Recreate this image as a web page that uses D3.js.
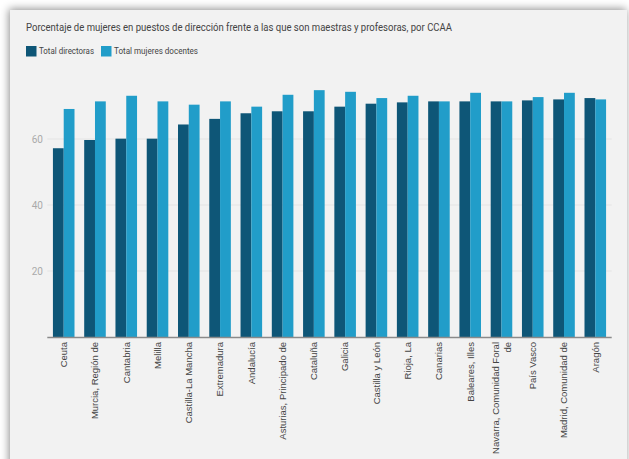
<!DOCTYPE html>
<html>
<head>
<meta charset="utf-8">
<script src="https://cdn.jsdelivr.net/npm/d3@7"></script>
<style>
  body { margin: 0; background: #ffffff; }
  svg { display: block; }
</style>
</head>
<body>
<script>
// data
const regiones = ['Ceuta', 'Murcia, Región de', 'Cantabria', 'Melilla', 'Castilla-La Mancha',
  'Extremadura', 'Andalucía', 'Asturias, Principado de', 'Cataluña', 'Galicia',
  'Castilla y León', 'Rioja, La', 'Canarias', 'Baleares, Illes', 'Navarra, Comunidad Foral de',
  'País Vasco', 'Madrid, Comunidad de', 'Aragón']
const directoras = [57.2, 59.7, 60.1, 60.1, 64.4, 66.1, 67.8, 68.4, 68.4, 69.8,
  70.7, 71.1, 71.4, 71.4, 71.4, 71.7, 72.0, 72.4]
const docentes = [69.1, 71.4, 73.1, 71.4, 70.4, 71.4, 69.8, 73.4, 74.8, 74.3,
  72.4, 73.1, 71.4, 74.0, 71.4, 72.7, 74.0, 72.0]
const series = ['Total directoras', 'Total mujeres docentes']
const yTicks = [20, 40, 60]

const colores = ['#0e5677', '#219dc9']

const w = 629, h = 459

const svg = d3.select('body').append('svg')
  .attr('width', w)
  .attr('height', h)

// card + shadow
const defs = svg.append('defs')
const f = defs.append('filter').attr('id', 'sombra')
  .attr('x', '-10%').attr('y', '-10%').attr('width', '120%').attr('height', '120%')
f.append('feDropShadow')
  .attr('dx', -1).attr('dy', -1)
  .attr('stdDeviation', 4)
  .attr('flood-color', '#000')
  .attr('flood-opacity', 0.45)

svg.append('rect')
  .attr('x', 10).attr('y', 10)
  .attr('width', 617).attr('height', 470)
  .attr('fill', '#f2f2f2')
  .attr('filter', 'url(#sombra)')

// title (the source font is a bit condensed)
svg.append('text')
  .attr('x', 26).attr('y', 31)
  .attr('font-family', 'Roboto')
  .attr('font-size', 10.5)
  .attr('fill', '#444')
  .attr('textLength', 426)
  .attr('lengthAdjust', 'spacingAndGlyphs')
  .text('Porcentaje de mujeres en puestos de dirección frente a las que son maestras y profesoras, por CCAA')

// legend
const leyendaLargo = [55, 84]
const leyenda = svg.append('g').attr('transform', 'translate(26, 46)')
let lx = 0
series.forEach((s, i) => {
  const g = leyenda.append('g').attr('transform', `translate(${lx}, 0)`)
  g.append('rect').attr('width', 10.5).attr('height', 10.5).attr('fill', colores[i])
  g.append('text')
    .attr('x', 13).attr('y', 8.3)
    .attr('font-family', 'Roboto')
    .attr('font-size', 8.6)
    .attr('fill', '#444')
    .attr('textLength', leyendaLargo[i])
    .attr('lengthAdjust', 'spacingAndGlyphs')
    .text(s)
  lx += 13 + leyendaLargo[i] + 7
})

// scales
const x0 = d3.scaleBand()
  .domain(regiones)
  .range([47.3, 611.7])
  .paddingInner(0.31)
  .paddingOuter(0.18)

const x1 = d3.scaleBand()
  .domain([0, 1])
  .range([0, x0.bandwidth()])

const y = d3.scaleLinear()
  .domain([0, 76])
  .range([337, 337 - 3.3 * 76])

// grid
svg.append('g')
  .selectAll('line')
  .data(yTicks)
  .enter()
  .append('line')
  .attr('x1', 47.3).attr('x2', 611.7)
  .attr('y1', d => y(d)).attr('y2', d => y(d))
  .attr('stroke', '#e4e4e4')
  .attr('stroke-width', 1)

const yAxis = d3.axisLeft(y).tickValues(yTicks).tickSize(0).tickPadding(4)
const gy = svg.append('g')
  .attr('transform', 'translate(47, 0)')
  .call(yAxis)
gy.select('.domain').remove()
gy.selectAll('text')
  .attr('font-family', 'Roboto')
  .attr('font-size', 10)
  .attr('fill', '#aaa')

// bars
const grupos = svg.append('g')
  .selectAll('g')
  .data(regiones)
  .enter()
  .append('g')
  .attr('transform', d => `translate(${x0(d)}, 0)`)

grupos.selectAll('rect')
  .data((d, i) => [directoras[i], docentes[i]])
  .enter()
  .append('rect')
  .attr('x', (d, j) => x1(j))
  .attr('y', d => y(d))
  .attr('width', x1.bandwidth())
  .attr('height', d => y(0) - y(d))
  .attr('fill', (d, j) => colores[j])

// baseline
svg.append('line')
  .attr('x1', 47.3).attr('x2', 611.7)
  .attr('y1', y(0) + 0.5).attr('y2', y(0) + 0.5)
  .attr('stroke', '#8a8a8a')
  .attr('stroke-width', 1.5)

// x labels, rotated
const maxLargo = 120
const etiquetas = svg.append('g')
  .selectAll('text')
  .data(regiones)
  .enter()
  .append('text')
  .attr('transform', d => `translate(${x0(d) + x0.bandwidth() / 2}, 342) rotate(-90)`)
  .attr('text-anchor', 'end')
  .attr('font-family', 'Liberation Sans, Arial, sans-serif')
  .attr('font-size', 9.5)
  .attr('fill', '#444')

etiquetas.each(function (d) {
  const t = d3.select(this)
  // split in lines by width
  const palabras = d.split(' ')
  let lineas = []
  let actual = []
  const prueba = t.append('tspan')
  palabras.forEach(p => {
    actual.push(p)
    prueba.text(actual.join(' '))
    if (prueba.node().getComputedTextLength() > maxLargo && actual.length > 1) {
      actual.pop()
      lineas.push(actual.join(' '))
      actual = [p]
    }
  })
  lineas.push(actual.join(' '))
  prueba.remove()
  const lh = 12.5
  const off = -(lineas.length - 1) * lh / 2
  lineas.forEach((l, k) => {
    t.append('tspan')
      .attr('x', 0)
      .attr('y', off + k * lh)
      .attr('dy', '0.35em')
      .text(l)
  })
})
</script>
</body>
</html>
